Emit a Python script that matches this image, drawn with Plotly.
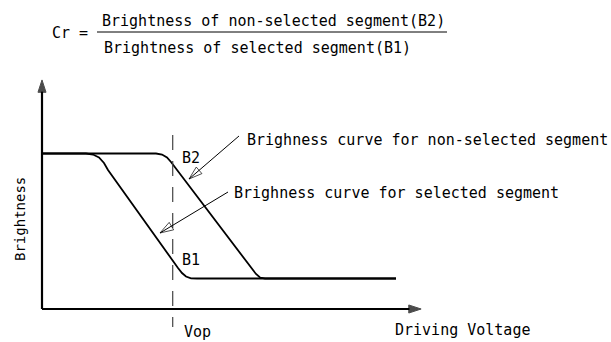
"""Contrast ratio sketch: brightness vs driving voltage for selected / non-selected segments."""

import plotly.graph_objects as go

# units: arbitrary voltage / brightness, axis origin at (0, 0)
SEL_V = [0, 1.164, 1.349, 1.508, 1.640, 1.746, 3.598, 3.704, 3.810, 3.942, 4.101, 9.365]
SEL_B = [4.114, 4.114, 4.087, 4.008, 3.862, 3.677, 1.085, 0.952, 0.860, 0.812, 0.807, 0.807]

NON_V = [0, 3.016, 3.175, 3.307, 3.413, 5.556, 5.661, 5.767, 5.899, 9.365]
NON_B = [4.114, 4.114, 4.087, 4.008, 3.889, 1.058, 0.926, 0.833, 0.807, 0.807]

X_AXIS_V = [0, 10.03]
X_AXIS_B = [0, 0]
Y_AXIS_V = [0, 0]
Y_AXIS_B = [0, 6.06]

VOP_V = [3.458, 3.458]
VOP_B = [4.603, -0.476]

# callout arrows: tail -> tip
CALL_NON_V = [5.212, 3.889]
CALL_NON_B = [4.577, 3.439]
CALL_SEL_V = [4.921, 3.122]
CALL_SEL_B = [3.095, 2.011]

FONT = "DejaVu Sans Mono, Liberation Mono, monospace"
W, H = 611, 342
PX = 37.8  # pixels per unit
X0, Y0 = 42, 309  # origin in pixels

fig = go.Figure()


def arrow_line(v, b, width, head, size):
    fig.add_trace(
        go.Scatter(
            x=v,
            y=b,
            mode="lines+markers",
            line={"color": "black", "width": width},
            marker={
                "symbol": head,
                "size": [0, size],
                "angleref": "previous",
                "color": "black",
                "line": {"color": "black", "width": 1},
            },
            hoverinfo="skip",
            showlegend=False,
        )
    )


arrow_line(X_AXIS_V, X_AXIS_B, 2.2, "arrow", 13)
arrow_line(Y_AXIS_V, Y_AXIS_B, 2.2, "arrow", 13)

for v, b in [(SEL_V, SEL_B), (NON_V, NON_B)]:
    fig.add_trace(
        go.Scatter(
            x=v,
            y=b,
            mode="lines",
            line={"color": "black", "width": 1.8},
            hoverinfo="skip",
            showlegend=False,
        )
    )

fig.add_trace(
    go.Scatter(
        x=VOP_V,
        y=VOP_B,
        mode="lines",
        line={"color": "#444", "width": 1.2, "dash": "15px,11px"},
        hoverinfo="skip",
        showlegend=False,
    )
)

arrow_line(CALL_NON_V, CALL_NON_B, 1, "arrow-open", 14)
arrow_line(CALL_SEL_V, CALL_SEL_B, 1, "arrow-open", 14)

labels = [
    ("B2", 3.651, 3.995),
    ("B1", 3.651, 1.296),
    ("Vop", 3.70, -0.61),
    ("Driving Voltage", 9.286, -0.556),
    ("Brighness curve for non-selected segment", 5.370, 4.471),
    ("Brighness curve for selected segment", 5.026, 3.069),
]
for text, x, y in labels:
    fig.add_annotation(
        x=x, y=y, text=text, showarrow=False, xanchor="left", yanchor="middle",
        font={"family": FONT, "size": 15, "color": "black"},
    )

fig.add_annotation(
    x=-0.582, y=2.381, text="Brightness", textangle=-90, showarrow=False,
    font={"family": FONT, "size": 14, "color": "black"},
)

# formula on top, paper coordinates
fig.add_annotation(
    x=50 / W, y=1 - 33 / H, xref="paper", yref="paper", text="Cr =",
    showarrow=False, xanchor="left", yanchor="middle",
    font={"family": FONT, "size": 15, "color": "black"},
)
fig.add_annotation(
    x=273 / W, y=1 - 21 / H, xref="paper", yref="paper",
    text="Brightness of non-selected segment(B2)",
    showarrow=False, xanchor="center", yanchor="middle",
    font={"family": FONT, "size": 15, "color": "black"},
)
fig.add_annotation(
    x=257 / W, y=1 - 48 / H, xref="paper", yref="paper",
    text="Brightness of selected segment(B1)",
    showarrow=False, xanchor="center", yanchor="middle",
    font={"family": FONT, "size": 15, "color": "black"},
)
fig.add_shape(
    type="line", xref="paper", yref="paper",
    x0=97 / W, x1=447 / W, y0=1 - 32 / H, y1=1 - 32 / H,
    line={"color": "black", "width": 1},
)

fig.update_xaxes(
    range=[(0 - X0) / PX, (W - X0) / PX], visible=False, fixedrange=True
)
fig.update_yaxes(
    range=[(Y0 - H) / PX, Y0 / PX], visible=False, fixedrange=True
)
fig.update_layout(
    width=W,
    height=H,
    margin={"l": 0, "r": 0, "t": 0, "b": 0},
    paper_bgcolor="white",
    plot_bgcolor="white",
)

# drop the default 8px body margin so the figure sits at the window corner
fig.write_html(
    "out.html",
    config={"displayModeBar": False},
    post_script="document.body.style.margin='0';document.body.style.overflow='hidden';",
)
